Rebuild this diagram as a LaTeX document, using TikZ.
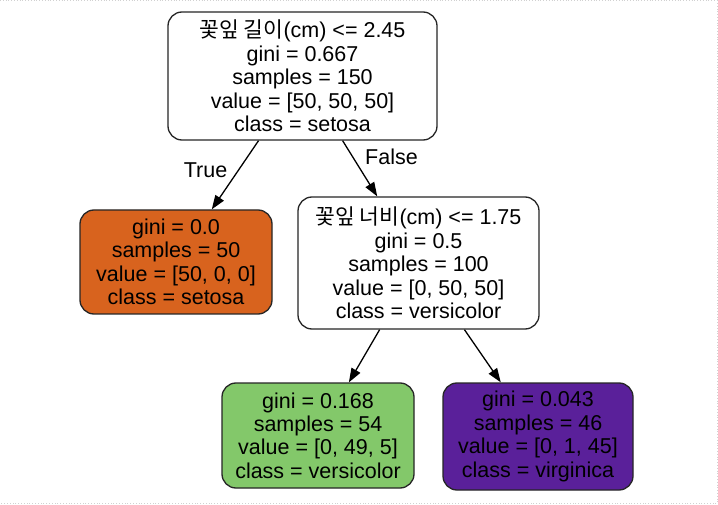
\documentclass[tikz,border=0pt]{standalone}
\usepackage{fontspec}
\setmainfont{Liberation Sans}
\newfontfamily\kr{Noto Sans CJK KR}
\usetikzlibrary{arrows.meta}
\definecolor{setosaC}{HTML}{D8631E}
\definecolor{versiC}{HTML}{83C86A}
\definecolor{virgiC}{HTML}{5A209A}
\tikzset{
  tnode/.style={draw=black!85, line width=1.3pt, rounded corners=14pt, align=center,
    inner sep=0pt, font=\fontsize{21.5}{23.4}\selectfont},
  tedge/.style={line width=1.3pt, -{Triangle[length=14pt,width=10pt]}, shorten <=0pt},
  elabel/.style={font=\fontsize{21.5}{23.4}\selectfont, inner sep=0pt}
}
\begin{document}
\begin{tikzpicture}[x=1pt,y=-1pt]
\fill[white] (0,0) rectangle (718,505);
\useasboundingbox (0,0) rectangle (718,505);
\draw[black!18, line width=0.8pt, dotted] (0,0.5) -- (717,0.5) -- (717,503.5) -- (0,503.5);

\node[tnode, fill=white, minimum width=269pt, minimum height=128pt] (root) at (302.5,76)
  {{\kr 꽃잎 길이}(cm) <= 2.45\\gini = 0.667\\samples = 150\\value = [50, 50, 50]\\class = setosa};
\node[tnode, fill=setosaC, minimum width=192pt, minimum height=104pt] (left) at (176,262)
  {gini = 0.0\\samples = 50\\value = [50, 0, 0]\\class = setosa};
\node[tnode, fill=white, minimum width=241pt, minimum height=132pt] (right) at (418.5,263)
  {{\kr 꽃잎 너비}(cm) <= 1.75\\gini = 0.5\\samples = 100\\value = [0, 50, 50]\\class = versicolor};
\node[tnode, fill=versiC, minimum width=192pt, minimum height=105pt] (green) at (318,435.5)
  {gini = 0.168\\samples = 54\\value = [0, 49, 5]\\class = versicolor};
\node[tnode, fill=virgiC, minimum width=190pt, minimum height=107pt] (purple) at (538,436.5)
  {gini = 0.043\\samples = 46\\value = [0, 1, 45]\\class = virginica};

\draw[tedge] (root) -- (left);
\draw[tedge] (root) -- (right);
\draw[tedge] (right) -- (green);
\draw[tedge] (right) -- (purple);

\node[elabel] (ltrue) at (205.5,170) {True};
\node[elabel] (lfalse) at (391.5,157) {False};
\end{tikzpicture}
\end{document}
